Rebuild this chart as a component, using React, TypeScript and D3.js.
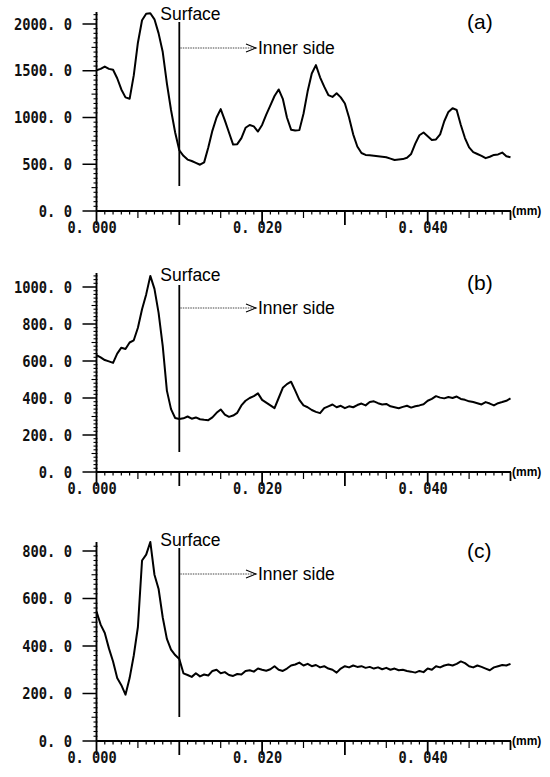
import React from "react";
import * as d3 from "d3";

// sampling grid of depth (mm), one reading every 0.0005 mm
const depthStep = 0.0005;

const seriesA = [
  1505, 1520, 1545, 1520, 1510, 1420, 1300, 1215, 1200, 1450,
  1800, 2040, 2110, 2115, 2050, 1900, 1700, 1365, 1080, 840,
  650, 590, 550, 535, 515, 495, 520, 680, 860, 1000,
  1090, 970, 840, 710, 715, 780, 890, 920, 905, 850,
  920, 1030, 1130, 1230, 1300, 1200, 1000, 870, 860, 865,
  1040, 1280, 1470, 1560, 1430, 1330, 1240, 1220, 1260, 1215,
  1150, 1000, 820, 690, 620, 600, 595, 590, 585, 580,
  575, 560, 545, 550, 555, 570, 610, 720, 810, 840,
  800, 760, 765, 820, 960, 1060, 1100, 1080, 920, 780,
  680, 630, 610, 590, 565, 580, 600, 605, 625, 585,
  575,
];

const seriesB = [
  632, 620, 605, 598, 590, 640, 672, 665, 700, 712,
  780, 880, 960, 1060, 990, 860, 680, 440, 340, 292,
  286, 290, 300, 288, 295, 285, 282, 280, 295, 320,
  338, 310, 298, 305, 320, 360, 385, 400, 410, 425,
  390, 375, 360, 345, 400, 455, 475, 488, 440, 390,
  360, 350, 335, 325, 318, 345, 355, 365, 350, 358,
  345, 355, 350, 362, 370, 360, 378, 382, 372, 365,
  368, 355, 350, 345, 352, 358, 348, 355, 360, 366,
  385, 395, 410, 402, 398, 405, 400, 408, 395, 390,
  382, 378, 372, 365, 378, 370, 360, 372, 378, 385,
  398,
];

const seriesC = [
  545, 490, 455, 390, 335, 265, 235, 195, 265, 360,
  480, 760, 785, 838, 700, 640, 520, 430, 385, 362,
  345, 285, 278, 270, 285, 272, 280, 276, 295, 300,
  285, 290, 278, 274, 282, 280, 295, 298, 292, 305,
  300, 296, 302, 315, 300, 295, 305, 318, 322, 330,
  318, 325, 315, 320, 310, 315, 305, 300, 288, 305,
  315, 310, 318, 312, 315, 308, 312, 305, 310, 302,
  308, 300, 305, 298, 300, 295, 292, 288, 295, 290,
  305, 300, 315, 310, 318, 322, 318, 325, 335, 328,
  315, 310, 318, 312, 305, 298, 310, 315, 320, 318,
  325,
];

const xTickValues = [0, 0.01, 0.02, 0.03, 0.04, 0.05];
const xTickLabels = ["0. 000", "", "0. 020", "", "0. 040", ""];
const xUnit = "(mm)";

const yTicksA = [0, 500, 1000, 1500, 2000];
const yLabelsA = ["0. 0", "500. 0", "1000. 0", "1500. 0", "2000. 0"];
const yTicksB = [0, 200, 400, 600, 800, 1000];
const yLabelsB = ["0. 0", "200. 0", "400. 0", "600. 0", "800. 0", "1000. 0"];
const yTicksC = [0, 200, 400, 600, 800];
const yLabelsC = ["0. 0", "200. 0", "400. 0", "600. 0", "800. 0"];

const panelLetters = ["(a)", "(b)", "(c)"];
const surfaceDepth = 0.01;
const surfaceText = "Surface";
const innerText = "Inner side";

const panels = [
  { values: seriesA, ticks: yTicksA, labels: yLabelsA, letter: panelLetters[0],
    base: 211, topVal: 2000, topPx: 24, axisTop: 12, minor: 50, medium: 250,
    surfTop: 22, surfBot: 186, surfBase: 19.5, arrowY: 48, letterBase: 29 },
  { values: seriesB, ticks: yTicksB, labels: yLabelsB, letter: panelLetters[1],
    base: 472, topVal: 1000, topPx: 287, axisTop: 273, minor: 20, medium: 100,
    surfTop: 285, surfBot: 452, surfBase: 281, arrowY: 308, letterBase: 290 },
  { values: seriesC, ticks: yTicksC, labels: yLabelsC, letter: panelLetters[2],
    base: 741, topVal: 800, topPx: 551, axisTop: 542, minor: 20, medium: 100,
    surfTop: 548, surfBot: 717, surfBase: 546, arrowY: 574, letterBase: 558 },
];

const SANS = "'Liberation Sans', Arial, Helvetica, sans-serif";
const MONO = "'DejaVu Sans Mono', monospace";

function Panel({ p }: { p: (typeof panels)[number] }) {
  const x = d3.scaleLinear().domain([0, 0.05]).range([96.5, 510.5]);
  const y = d3.scaleLinear().domain([0, p.topVal]).range([p.base, p.topPx]);
  const axisMax = y.invert(p.axisTop);
  const line = d3
    .line<number>()
    .x((_, i) => x(i * depthStep))
    .y((d) => y(d));

  const xMinor = d3.range(0, 51).map((i) => i * 0.001);
  const yMinor = d3.range(0, Math.floor(axisMax / p.minor) + 1).map((i) => i * p.minor);
  const x0 = x(0);
  const sx = x(surfaceDepth);

  return (
    <g>
      {/* y axis */}
      <line x1={x0} x2={x0} y1={p.base} y2={p.axisTop} stroke="#000" strokeWidth={1.9} />
      {yMinor.map((v, i) => {
        const isMajor = p.ticks.includes(v);
        if (isMajor) return null;
        const isMed = Math.abs(v % p.medium) < 1e-6;
        return (
          <line key={"ym" + i} x1={x0 - (isMed ? 5 : 3)} x2={x0 + 1} y1={y(v)} y2={y(v)} stroke="#000" strokeWidth={1.1} />
        );
      })}
      {p.ticks.map((v, i) => (
        <g key={"yt" + i}>
          <line x1={x0 - 14} x2={x0} y1={y(v)} y2={y(v)} stroke="#000" strokeWidth={1.5} />
          <text
            x={72}
            y={y(v)}
            textAnchor="end"
            dominantBaseline="central"
            fontFamily={MONO}
            fontWeight="bold"
            fontSize={16}
            textLength={p.labels[i].length * 8.3}
            lengthAdjust="spacingAndGlyphs"
            fill="#111"
          >
            {p.labels[i]}
          </text>
        </g>
      ))}
      {/* x axis */}
      <line x1={x0} x2={x(0.05) + 0.5} y1={p.base} y2={p.base} stroke="#000" strokeWidth={1.9} />
      {xMinor.map((v, i) => {
        const major = i % 10 === 0;
        const med = i % 5 === 0;
        const len = i === 50 ? 9 : major ? 14 : med ? 7 : 3.5;
        return (
          <line key={"xm" + i} x1={x(v)} x2={x(v)} y1={p.base} y2={p.base + len} stroke="#000" strokeWidth={major ? 1.8 : 1.2} />
        );
      })}
      {xTickValues.map((v, i) =>
        xTickLabels[i] ? (
          <text
            key={"xt" + i}
            x={x(v) - 4.5}
            y={p.base + 22}
            textAnchor="middle"
            fontFamily={MONO}
            fontWeight="bold"
            fontSize={16}
            textLength={xTickLabels[i].length * 8.2}
            lengthAdjust="spacingAndGlyphs"
            fill="#111"
          >
            {xTickLabels[i]}
          </text>
        ) : null
      )}
      <text x={512} y={p.base + 4} fontFamily={SANS} fontSize={12} fontWeight="bold" fill="#000">
        {xUnit}
      </text>
      {/* data */}
      <path d={line(p.values) || ""} fill="none" stroke="#000" strokeWidth={2} strokeLinejoin="round" />
      {/* surface marker */}
      <line x1={sx} x2={sx} y1={p.surfTop} y2={p.surfBot} stroke="#000" strokeWidth={1.8} />
      <text x={sx - 19} y={p.surfBase} fontFamily={SANS} fontSize={17.5} fill="#000">
        {surfaceText}
      </text>
      <line x1={sx + 1} x2={255} y1={p.arrowY} y2={p.arrowY} stroke="#444" strokeWidth={1} strokeDasharray="1.5 1" />
      <polyline
        points={`246,${p.arrowY - 4} 256,${p.arrowY} 246,${p.arrowY + 4}`}
        fill="none"
        stroke="#000"
        strokeWidth={1.1}
      />
      <text x={258} y={p.arrowY + 6} fontFamily={SANS} fontSize={17.5} fill="#000">
        {innerText}
      </text>
      <text x={467} y={p.letterBase} fontFamily={SANS} fontSize={21} fill="#000">
        {p.letter}
      </text>
    </g>
  );
}

export default function App() {
  return (
    <svg
      width={550}
      height={777}
      viewBox="0 0 550 777"
      style={{ position: "absolute", left: 0, top: 0, background: "#fff" }}
    >
      <rect x={0} y={0} width={550} height={777} fill="#fff" />
      {panels.map((p, i) => (
        <Panel key={i} p={p} />
      ))}
    </svg>
  );
}
